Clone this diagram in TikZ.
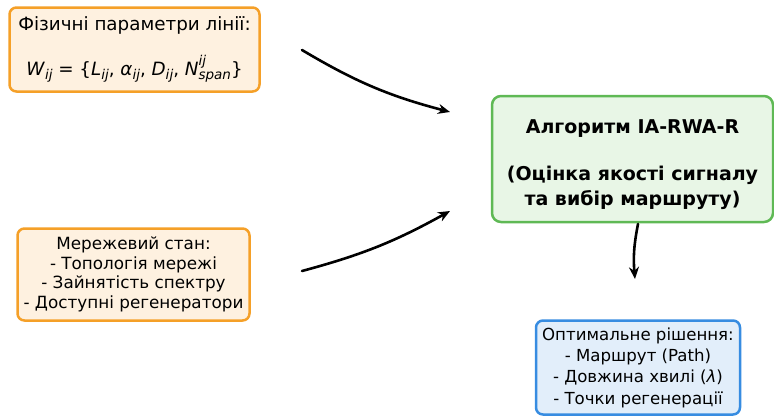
\documentclass[tikz,border=0pt]{standalone}
\usepackage{fontspec}
\setmainfont{DejaVu Sans}
\usetikzlibrary{positioning}
\usetikzlibrary{arrows.meta}

\definecolor{inborder}{RGB}{245,160,40}
\definecolor{infill}{RGB}{254,241,224}
\definecolor{algoborder}{RGB}{95,185,85}
\definecolor{algofill}{RGB}{232,246,230}
\definecolor{outborder}{RGB}{55,140,225}
\definecolor{outfill}{RGB}{226,238,250}

% small italic indices for the formula
\newcommand{\idx}[1]{\raisebox{-0.45ex}{\fontsize{13.5}{13.5}\selectfont\itshape #1}}
\newcommand{\upidx}[1]{\raisebox{1.0ex}{\fontsize{13.5}{13.5}\selectfont\itshape #1}}

\begin{document}
\begin{tikzpicture}[x=1pt, y=-1pt,
                inputnode/.style={rectangle, rounded corners=7pt, draw=inborder, fill=infill, line width=2.5pt, align=center, inner sep=0pt},
                algonode/.style={rectangle, rounded corners=9pt, draw=algoborder, fill=algofill, line width=2.5pt, align=center, inner sep=0pt},
                outnode/.style={rectangle, rounded corners=7pt, draw=outborder, fill=outfill, line width=2.5pt, align=center, inner sep=0pt},
                flow/.style={-{Stealth[length=12pt, width=10pt]}, line width=2.6pt, line cap=round},
            ]
            \useasboundingbox (0,0) rectangle (774,416);

            % Nodes
            \node[algonode, minimum width=281pt, minimum height=126pt,
                  font=\fontsize{19}{25}\selectfont\bfseries]
                  (algo)    at (632.5,159)    {\rule{0pt}{26pt}Алгоритм IA-RWA-R\\[22pt](Оцінка якості сигналу\\та вибір маршруту)};

            \node[inputnode, minimum width=250pt, minimum height=84pt,
                  font=\fontsize{18.3}{22}\selectfont]
                  (params)  [above left=2pt and 230pt of algo]
                  {Фізичні параметри лінії:\\[20pt]\textit{W}\idx{ij} = \{\textit{L}\idx{ij}, \textit{α}\idx{ij}, \textit{D}\idx{ij}, \textit{N}\rlap{\upidx{ij}}\idx{span}\}};

            \node[inputnode, minimum width=232pt, minimum height=92pt,
                  font=\fontsize{16.8}{19.5}\selectfont]
                  (state)   [below left=4pt and 240pt of algo]
                  {Мережевий стан:\\- Топологія мережі\\- Зайнятість спектру\\- Доступні регенератори};

            \node[outnode, minimum width=204pt, minimum height=94pt,
                  font=\fontsize{16.6}{21.3}\selectfont]
                  (result)  [below=96pt of algo, xshift=5.5pt]
                  {Оптимальне рішення:\\- Маршрут (Path)\\- Довжина хвилі (\textit{λ})\\- Точки регенерації};

            % free arrow ends
            \coordinate (params_out) at (302,50);
            \coordinate (state_out)  at (302,271);
            \coordinate (algo_in_1)  at (450,112);
            \coordinate (algo_in_2)  at (450,211);
            \coordinate (algo_out)   at (638,224);
            \coordinate (result_in)  at (635,279);

            %Lines
            \draw[flow] (params_out) to[bend right=8] (algo_in_1);
            \draw[flow] (state_out) to[bend right=7] (algo_in_2);
            \draw[flow] (algo_out) to[bend right=8] (result_in);
        \end{tikzpicture}
\end{document}
